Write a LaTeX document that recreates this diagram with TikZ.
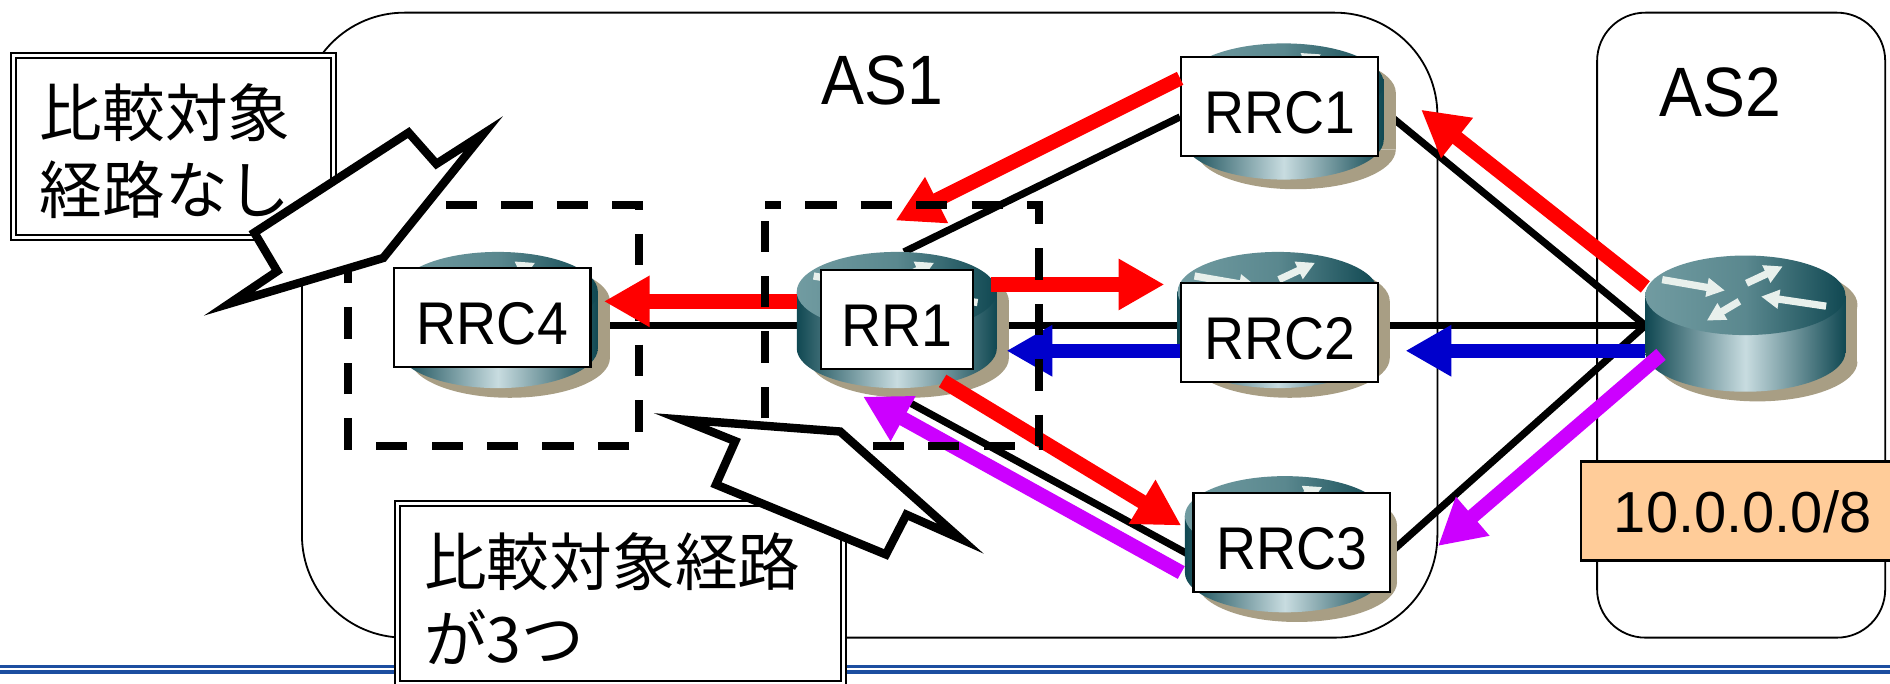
\documentclass[tikz,border=0pt]{standalone}
\usepackage{fontspec}
\setmainfont{Liberation Sans}
\newfontfamily\narrowfont[FakeStretch=0.92]{Liberation Sans}
\newfontfamily\cjkfont{Noto Sans CJK JP}
\usetikzlibrary{
  arrows.meta,
  backgrounds
}
\definecolor{RouterDark}{RGB}{16,72,82}
\definecolor{RouterLight}{RGB}{200,220,224}
\definecolor{RouterTop}{RGB}{130,170,175}
\definecolor{RouterShadow}{RGB}{168,158,132}
\definecolor{RouterMark}{RGB}{232,240,236}
\definecolor{RuleBlue}{RGB}{28,78,160}
\definecolor{PrefixOrange}{RGB}{255,204,153}
\definecolor{FlowRed}{RGB}{255,0,0}
\definecolor{FlowBlue}{RGB}{0,0,204}
\definecolor{FlowPurple}{RGB}{204,0,255}
\tikzset{
  asbox/.style={draw,line width=1.5pt,fill=white,inner sep=0pt},
  astext/.style={font=\narrowfont\fontsize{58}{58}\selectfont,inner sep=0pt,text height=42pt,text depth=0pt},
  rrbox/.style={draw,line width=2pt,fill=white,inner sep=0pt,minimum height=82pt,font=\narrowfont\fontsize{50}{50}\selectfont,text height=45pt,text depth=0pt},
  notebox/.style={draw,fill=white,line width=1.6pt,double,double distance=2.5pt,inner xsep=22pt,inner ysep=0pt,align=left,font=\cjkfont\fontsize{52}{64}\selectfont},
  prefixbox/.style={draw,line width=2pt,fill=PrefixOrange,inner sep=0pt,minimum width=268pt,minimum height=82pt,font=\fontsize{48}{48}\selectfont,text height=35pt,text depth=0pt},
  linkline/.style={line width=6pt,draw=black},
  flowarrow/.style={line width=12pt,-{Triangle[length=38pt,width=40pt]}},
  redflow/.style={flowarrow,draw=FlowRed,fill=FlowRed},
  blueflow/.style={flowarrow,draw=FlowBlue,fill=FlowBlue},
  purpleflow/.style={flowarrow,draw=FlowPurple,fill=FlowPurple},
  dashbox/.style={line width=6.5pt,dash pattern=on 26pt off 20pt},
  callout/.style={draw,fill=white,line width=7pt,miter limit=25},
  routermark/.style={line width=6pt,draw=RouterMark,fill=RouterMark,-{Triangle[length=15pt,width=15pt]}},
  router/.pic={
    \fill[RouterShadow] (10,8) ellipse (83pt and 33pt);
    \fill[RouterShadow] (-73,8) rectangle (93,55);
    \fill[RouterShadow] (-73,55) .. controls (-73,73) and (-36,88) .. (10,88) .. controls (56,88) and (93,73) .. (93,55) -- cycle;
    \shade[left color=RouterDark,right color=RouterDark,middle color=RouterLight]
      (-83,0) -- (-83,47) .. controls (-83,65) and (-46,80) .. (0,80) .. controls (46,80) and (83,65) .. (83,47) -- (83,0) -- cycle;
    \shade[left color=RouterTop!85!RouterDark,right color=RouterDark,middle color=RouterTop!65!RouterDark] (0,0) ellipse (83pt and 33pt);
    \draw[routermark] (-69,-13) -- (-17,-4);
    \draw[routermark] (1,-10) -- (31,-24);
    \draw[routermark] (67,9) -- (13,1);
    \draw[routermark] (-5,5) -- (-32,21);
  }
}
\begin{document}
\begin{tikzpicture}[x=1pt,y=-1pt]
\useasboundingbox (0,0) rectangle (1568,567);
\node[rrbox,minimum width=163pt] (RRC1) at (1061.5,88.5) {RRC1};
\node[rrbox,minimum width=163pt] (RRC2) at (1061.5,276) {RRC2};
\node[rrbox,minimum width=163pt] (RRC3) at (1071.5,450) {RRC3};
\node[rrbox,minimum width=163pt] (RRC4) at (408.5,263.5) {RRC4};
\node[rrbox,minimum width=126pt] (RR1) at (744,265) {RR1};
\node[prefixbox] (prefix) at (1445.75,424) {10.0.0.0/8};
\coordinate (AS2port) at (1365,270);
\coordinate (AS2red) at (1365,238);
\coordinate (AS2blue) at (1365,291);
\coordinate (AS2purple) at (1378,294);
\coordinate (tipRR1top) at (743,183);
\coordinate (tipRRC1) at (1179,91);
\coordinate (tipRRC2a) at (1166,291);
\coordinate (tipRRC3a) at (1193,453);
\coordinate (tipRRC2b) at (966,236);
\coordinate (tipRRC4) at (501,250);
\coordinate (tipRR1right) at (835,291);
\coordinate (tipRRC3b) at (980,436);
\coordinate (tipRR1low) at (716,329);
% everything behind the labels
\begin{scope}[on background layer]
\foreach \ruley in {553,557.5}
  \draw[RuleBlue,line width=3pt] (0,\ruley) -- (1568,\ruley);
\node[asbox,rounded corners=85pt,minimum width=942pt,minimum height=518.5pt] (AS1box) at (721.5,269.75) {};
\node[asbox,rounded corners=40pt,minimum width=239pt,minimum height=518.5pt] (AS2box) at (1444.5,269.75) {};
\node[astext] (AS1) at (732,66) {AS1};
\node[astext] (AS2) at (1427,76) {AS2};
\draw[linkline] ([shift={(6pt,14pt)}]RR1.north) -- ([yshift=-8.5pt]RRC1.west);
\draw[linkline] ([yshift=-5pt]RR1.east) -- ([yshift=6pt]RRC2.west);
\draw[linkline] ([shift={(5pt,-24pt)}]RR1.south) -- ([yshift=-11.5pt]RRC3.west);
\draw[linkline] ([yshift=-5pt]RR1.west) -- ([yshift=-6.5pt]RRC4.east);
\draw[linkline] (RRC1.east) -- (AS2port);
\draw[linkline] ([yshift=6pt]RRC2.east) -- (AS2port);
\draw[linkline] ([yshift=-8pt]RRC3.east) -- (AS2port);
\pic at (1065,69) {router};
\pic at (1060,242) {router};
\pic at (1066,428) {router};
\pic at (413,242) {router};
\pic at (744,242) {router};
\pic at (1448,245) {router};
\end{scope}
\draw[dashbox,dash phase=11pt] (289,170) -- (530,170) -- (530,370) -- (289,370) -- cycle;
\draw[redflow] ([yshift=23.5pt]RRC1.west) -- (tipRR1top);
\draw[redflow] (AS2red) -- (tipRRC1);
\draw[blueflow] (AS2blue) -- (tipRRC2a);
\draw[purpleflow] (AS2purple) -- (tipRRC3a);
\draw[redflow] ([shift={(14pt,29pt)}]RR1.east) -- (tipRRC2b);
\draw[redflow] ([shift={(-19pt,15pt)}]RR1.west) -- (tipRRC4);
\draw[blueflow] ([yshift=-15pt]RRC2.west) -- (tipRR1right);
\draw[redflow] ([shift={(38pt,-9pt)}]RR1.south) -- (tipRRC3b);
\draw[purpleflow] ([shift={(-9pt,-25pt)}]RRC3.west) -- (tipRR1low);
\draw[dashbox,dash phase=13pt] (635,170) -- (862,170) -- (862,370) -- (635,370) -- cycle;
\node[notebox,text width=222pt,minimum height=151pt] (noteNone) at (144,121.5) {\rule{0pt}{52pt}比較対象\\経路なし};
\node[notebox,text width=326pt,minimum height=149pt] (noteThree) at (515,492.5) {\rule{0pt}{52pt}比較対象経路\\が3つ};
\draw[callout] (401,111) -- (362,136) -- (339,110) -- (211,193) -- (230,225) -- (190,252) -- (318,214) -- cycle;
\draw[callout] (565,348) -- (697,358) -- (797,447) -- (752,427) -- (735,460) -- (594,402) -- (610,366) -- cycle;
\end{tikzpicture}
\end{document}
